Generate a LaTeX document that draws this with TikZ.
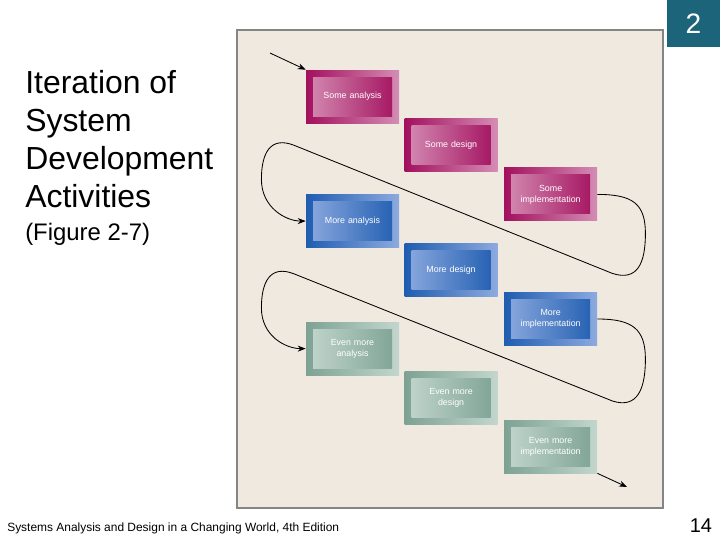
\documentclass[tikz,border=0pt]{standalone}
\usepackage{fontspec}
\setmainfont{Liberation Sans}
\usetikzlibrary{arrows.meta,positioning,calc}
\definecolor{paper}{HTML}{EFE9E0}
\definecolor{frame}{HTML}{858585}
\definecolor{pagebg}{HTML}{1B6479}
\definecolor{magD}{HTML}{A3105E}
\definecolor{magL}{HTML}{D48DB4}
\definecolor{bluD}{HTML}{1F5DB0}
\definecolor{bluL}{HTML}{8DAADF}
\definecolor{sagD}{HTML}{7DA294}
\definecolor{sagL}{HTML}{C3D6CD}

\begin{document}
\begin{tikzpicture}[x=0.25mm,y=-0.25mm,>=Stealth,node distance=18mm and 1.25mm,
stage/.style 2 args={rectangle,minimum width=23.25mm,minimum height=13.25mm,inner sep=0pt,
  text width=19mm,align=center,text=white,font=\fontsize{6.3}{7.8}\selectfont,
  left color=#1,right color=#2,
  path picture={\shade[left color=#2,right color=#1]
    ($(path picture bounding box.south west)+(1.75mm,1.75mm)$) rectangle
    ($(path picture bounding box.north east)-(1.75mm,1.75mm)$);}},
mag/.style={stage={magD}{magL}},
blu/.style={stage={bluD}{bluL}},
sag/.style={stage={sagD}{sagL}},
loop/.style={->,line width=0.6pt,black}]
\useasboundingbox (0,0) rectangle (720,540);
% panel and page number
\draw[frame,line width=1pt,fill=paper] (237,30) rectangle (663,508);
\node[fill=pagebg,minimum width=13.25mm,minimum height=11.75mm,inner sep=0pt,text=white,
  font=\fontsize{20}{24}\selectfont] (pg) at (693.5,23.5) {2};
% titles
\node[anchor=base west,align=left,inner sep=0pt,font=\fontsize{22.7}{27}\selectfont] (title) at (25,207)
  {Iteration of\\System\\Development\\Activities};
\node[anchor=base west,inner sep=0pt,font=\fontsize{17}{20}\selectfont] (fig) at (25,240) {(Figure 2-7)};
\node[anchor=base west,inner sep=0pt,font=\fontsize{8.5}{10}\selectfont] (foot) at (7,531)
  {Systems Analysis and Design in a Changing World, 4th Edition};
\node[anchor=base,inner sep=0pt,font=\fontsize{14.2}{17}\selectfont] (num) at (701,532) {14};
% first pass
\node[mag] (sa) at (352.5,96.5) {Some analysis};
\node[mag,below right=-1.15mm and 1.25mm of sa] (sd) {Some design};
\node[mag,below right=-1.15mm and 1.5mm of sd] (si) {Some\\implementation};
% second pass
\node[blu,below=17.75mm of sa] (ma) {More analysis};
\node[blu,below right=-1.15mm and 1.25mm of ma] (md) {More design};
\node[blu,below right=-1.15mm and 1.5mm of md] (mi) {More\\implementation};
% third pass
\node[sag,below=18.5mm of ma] (ea) {Even more\\analysis};
\node[sag,below right=-1.15mm and 1.25mm of ea] (ed) {Even more\\design};
\node[sag,below right=-1.15mm and 1.5mm of ed] (ei) {Even more\\implementation};
% iteration path
\coordinate (in) at (270,53);
\coordinate (out) at (627,487);
\draw[loop] (in) -- (sa.north west);
\draw[loop] (si.east) .. controls +(35,0) and +(0,-30) .. ++(48,39)
  .. controls +(0,30) and +(25,8) .. ++(-33,40) -- ++(-318,-128)
  .. controls +(-25,-10) and +(0,-25) .. ++(-33,34)
  .. controls +(0,28) and +(-20,0) .. (ma.west);
\draw[loop] (mi.east) .. controls +(35,0) and +(0,-30) .. ++(48,40)
  .. controls +(0,30) and +(25,8) .. ++(-33,42) -- ++(-318,-127)
  .. controls +(-25,-10) and +(0,-25) .. ++(-33,34)
  .. controls +(0,28) and +(-20,0) .. (ea.west);
\draw[loop] (ei.south east) -- (out);
\end{tikzpicture}
\end{document}
